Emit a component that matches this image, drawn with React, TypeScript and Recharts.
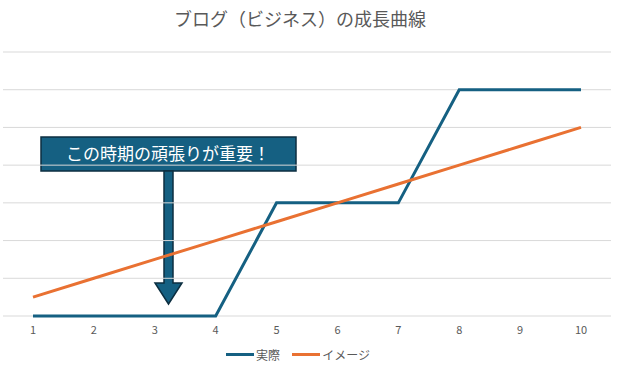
import {LineChart, Line, XAxis, YAxis, ReferenceLine, Legend} from 'recharts'

const xLabels = ['1', '2', '3', '4', '5', '6', '7', '8', '9', '10']
const actual = [0, 0, 0, 0, 3, 3, 3, 6, 6, 6]
const image = [0.5, 1, 1.5, 2, 2.5, 3, 3.5, 4, 4.5, 5]
const yTicks = [0, 1, 2, 3, 4, 5, 6, 7]

const title = 'ブログ（ビジネス）の成長曲線'
const note = 'この時期の頑張りが重要！'

const data = xLabels.map((x, i) => ({x, actual: actual[i], image: image[i]}))

const BLUE = '#156082'
const ORANGE = '#E97132'
const FONT = '"Noto Sans CJK JP", "Noto Sans", sans-serif'

const series = [
  {key: 'actual', name: '実際', color: BLUE},
  {key: 'image', name: 'イメージ', color: ORANGE},
]

const MyLegend = () => (
  <div style={{display: 'flex', justifyContent: 'center', gap: 12, fontSize: 12, color: '#595959', fontFamily: FONT, paddingRight: 18}}>
    {series.map(s => (
      <div key={s.key} style={{display: 'flex', alignItems: 'center'}}>
        <span style={{display: 'inline-block', width: 28, height: 3, background: s.color, marginRight: 2}}/>
        <span>{s.name}</span>
      </div>
    ))}
  </div>
)

const App = () => {
  return (
    <div style={{position: 'absolute', left: 0, top: 0, width: 620, height: 373, background: '#fff'}}>
      <LineChart width={620} height={373} data={data} margin={{top: 52, right: 9, bottom: 0, left: 3}}>
        <XAxis dataKey="x" height={30} tickLine={false} axisLine={false} padding={{left: 30, right: 30}}
               tick={{fill: '#595959', fontSize: 11, fontFamily: FONT}} tickMargin={4}/>
        <YAxis width={0} domain={[0, 7]} ticks={yTicks} tick={false} axisLine={false} tickLine={false}/>
        {yTicks.map(t => (
          <ReferenceLine key={t} y={t} stroke="#d9d9d9" strokeWidth={1}/>
        ))}
        <Legend verticalAlign="bottom" height={27} content={MyLegend}/>
        {series.map(s => (
          <Line key={s.key} dataKey={s.key} name={s.name} type="linear" stroke={s.color}
                strokeWidth={3} dot={false} activeDot={false} isAnimationActive={false}/>
        ))}
        <text x={300} y={26} textAnchor="middle" fill="#595959" fontSize={18} fontFamily={FONT}>{title}</text>
        <g>
          <rect x={41} y={137} width={255} height={34} fill={BLUE} stroke="#0c2e40" strokeWidth={1.5}/>
          <text x={168} y={160} textAnchor="middle" fill="#ffffff" fontSize={17} fontFamily={FONT}>{note}</text>
          <path d="M164,171 L173,171 L173,283 L182,283 L168.5,304 L155,283 L164,283 Z"
                fill={BLUE} stroke="#0c2e40" strokeWidth={1.5}/>
        </g>
      </LineChart>
    </div>
  )
}

export default App
